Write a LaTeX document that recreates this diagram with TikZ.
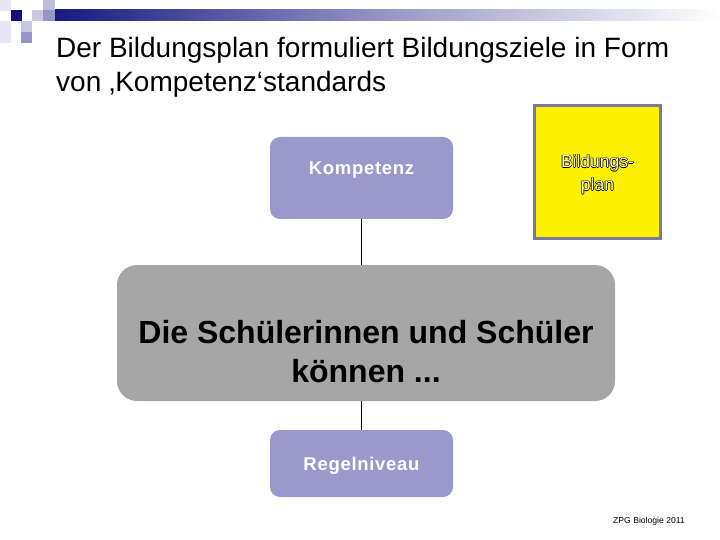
\documentclass[tikz,border=0pt]{standalone}
\usepackage{fontspec}
\setmainfont{Liberation Sans}
\newfontfamily\spacedsans[LetterSpace=3.8]{Liberation Sans}
\usetikzlibrary{positioning, calc}
\definecolor{lavender}{RGB}{153,153,204}
\definecolor{boxgrey}{RGB}{166,166,166}
\definecolor{navyband}{RGB}{24,24,128}
\definecolor{framegrey}{RGB}{122,122,158}
\definecolor{sqdark}{RGB}{16,16,126}
\definecolor{sqmid}{RGB}{150,150,198}
\definecolor{sqlight}{RGB}{200,200,226}
\definecolor{sqpale}{RGB}{230,230,244}
\definecolor{hollow}{RGB}{255,255,200}
% hollow lettering: black copies shifted around, light copy on top
\newcommand{\outlined}[1]{\leavevmode
  \rlap{\kern-0.7pt\color{black}#1}\rlap{\kern0.7pt\color{black}#1}%
  \rlap{\raisebox{0.7pt}{\color{black}#1}}\rlap{\raisebox{-0.7pt}{\color{black}#1}}%
  {\color{hollow}#1}}

\begin{document}
\begin{tikzpicture}[
  x=1pt, y=-1pt,
  title/.style={anchor=base west, inner sep=0pt, font=\fontsize{28}{34}\selectfont},
  smallbox/.style={
    rectangle, rounded corners=10pt, fill=lavender,
    minimum width=183pt, minimum height=82pt, text=white,
    font=\spacedsans\fontsize{18.5}{20}\selectfont\bfseries
  },
  bigbox/.style={
    rectangle, rounded corners=20pt, fill=boxgrey,
    minimum width=498pt, minimum height=136pt, align=center,
    font=\fontsize{32}{39}\selectfont\bfseries
  },
  planbox/.style={
    rectangle, draw=framegrey, line width=3pt, fill=yellow,
    minimum width=126pt, minimum height=133pt, align=center,
    font=\fontsize{17.5}{23}\selectfont
  },
  link/.style={draw=black, line width=0.8pt},
  footnote/.style={anchor=base west, inner sep=0pt, font=\fontsize{8.6}{10}\selectfont}
]
\useasboundingbox (0,0) rectangle (720,540);

% ---- Header band and squares ----
\shade[left color=navyband, right color=white, middle color=navyband!45] (55,10) rectangle (720,21);
\fill[sqpale]  (0,0) rectangle (11,11);
\fill[sqpale]  (0,21) rectangle (11,43);
\fill[sqdark]  (11,10) rectangle (22,21);
\fill[sqlight] (32,10) rectangle (43,21);
\fill[sqlight!80!sqmid] (43,0) rectangle (55,10);
\fill[sqmid]   (43,10) rectangle (55,21);
\fill[sqlight] (21,21) rectangle (32,32);
\fill[sqmid]   (21,32) rectangle (32,43);

% ---- Title ----
\node[title] (title1) at (56,58) {Der Bildungsplan formuliert Bildungsziele in Form};
\node[title] (title2) at (56,92) {von ‚Kompetenz‘standards};

% ---- Boxes ----
\node[smallbox, text height=13pt, text depth=19pt] (kompetenz) at (361.5,178) {Kompetenz};
\node[planbox, text height=43pt, text depth=5pt] (bildungsplan) at (597.5,172)
  {\outlined{Bildungs-}\\\outlined{plan}};
\node[bigbox, text height=110pt, text depth=12pt] (schueler) at (366,333)
  {Die Schülerinnen und Schüler\\können ...};
\node[smallbox, minimum height=67pt, text height=13pt, text depth=0pt] (regelniveau) at (361.5,463.5) {Regelniveau};

% ---- Connectors ----
\draw[link] (kompetenz.south) -- (kompetenz.south |- schueler.north);
\draw[link] (schueler.south -| regelniveau.north) -- (regelniveau.north);

\node[footnote] (footer) at (613,523) {ZPG Biologie 2011};

\end{tikzpicture}
\end{document}
